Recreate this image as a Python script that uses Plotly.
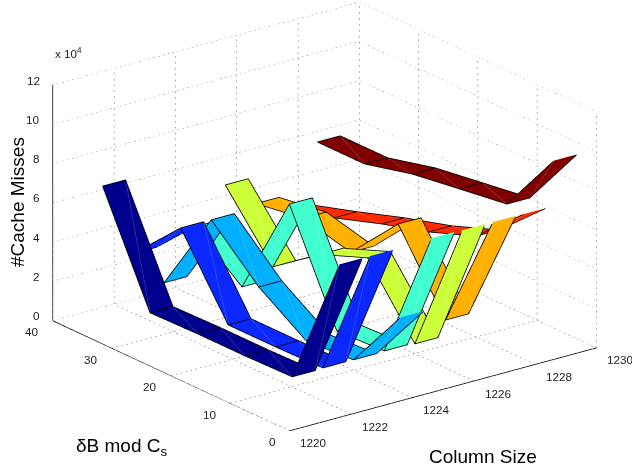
import plotly.graph_objects as go

# data (z in units of 1e4)
delta_b = [0, 8, 16, 24, 32, 40]
column_sizes = [1222, 1223, 1224, 1225, 1226, 1227, 1228, 1229]
misses_1222 = [7.79, 0.94, 0.89, 0.89, 0.84, 6.17]
misses_1223 = [7.79, 0.97, 0.92, 0.92, 4.74, 2.31]
misses_1224 = [4.25, 0.96, 0.81, 2.43, 4.73, 0.40]
misses_1225 = [7.86, 0.99, 0.89, 6.23, 0.89, 2.83]
misses_1226 = [7.84, 0.93, 4.19, 3.24, 1.49, 4.54]
misses_1227 = [7.83, 1.72, 5.49, 2.93, 3.54, 3.17]
misses_1228 = [7.81, 5.57, 4.66, 3.95, 3.14, 2.38]
misses_1229 = [10.12, 6.78, 6.43, 6.07, 5.46, 5.46]
misses = [misses_1222, misses_1223, misses_1224, misses_1225,
          misses_1226, misses_1227, misses_1228, misses_1229]
colors = ["#00008f", "#0a28ff", "#00b0ff", "#42ffcf", "#ccff3a", "#ffb000", "#ff2a00", "#800000"]
ribbon_width = 0.75
x_ticks = [1220, 1222, 1224, 1226, 1228, 1230]
y_ticks = [0, 10, 20, 30, 40]
z_ticks = [0, 2, 4, 6, 8, 10, 12]
X0, X1, Y0, Y1, Z0, Z1 = 1220, 1230, 0, 40, 0, 12

fig = go.Figure()

def seg_trace(segs, color, width, off=0.0):
    # off: small shift towards the viewer so lines win the depth test (no visible shift in orthographic view)
    xs, ys, zs = [], [], []
    for a, b in segs:
        xs += [a[0] - 3.45 * off, b[0] - 3.45 * off, None]
        ys += [a[1] - 17.8 * off, b[1] - 17.8 * off, None]
        zs += [a[2] + 3.95 * off, b[2] + 3.95 * off, None]
    fig.add_trace(go.Scatter3d(x=xs, y=ys, z=zs, mode="lines", hoverinfo="skip", showlegend=False,
                               line=dict(color=color, width=width)))

def dotted(a, b, n):
    out = []
    for k in range(n):
        t0, t1 = k / n, (k + 0.3) / n
        out.append((tuple(p + (q - p) * t0 for p, q in zip(a, b)),
                    tuple(p + (q - p) * t1 for p, q in zip(a, b))))
    return out

def lighter(hex_col, f=0.3):
    rgb = [int(hex_col[i:i + 2], 16) for i in (1, 3, 5)]
    return "rgb(%d,%d,%d)" % tuple(round(c + (255 - c) * f) for c in rgb)

# dotted grid
grid = []
for v in x_ticks:
    grid += dotted((v, Y0, Z0), (v, Y1, Z0), 52)
    grid += dotted((v, Y1, Z0), (v, Y1, Z1), 40)
for v in y_ticks:
    grid += dotted((X0, v, Z0), (X1, v, Z0), 64)
    grid += dotted((X1, v, Z0), (X1, v, Z1), 40)
for v in z_ticks:
    grid += dotted((X0, Y1, v), (X1, Y1, v), 64)
    grid += dotted((X1, Y1, v), (X1, Y0, v), 52)
seg_trace(grid, "#555555", 1)

# ribbons
for cs, vals, col in zip(column_sizes, misses, colors):
    xl, xr = cs - ribbon_width / 2, cs + ribbon_width / 2
    vx, vy, vz, ii, jj, kk = [], [], [], [], [], []
    for n, (y, z) in enumerate(zip(delta_b, vals)):
        vx += [xl, xr]; vy += [y, y]; vz += [z, z]
        if n:
            a = 2 * (n - 1)
            ii += [a, a + 1]; jj += [a + 1, a + 3]; kk += [a + 2, a + 2]
    fig.add_trace(go.Mesh3d(x=vx, y=vy, z=vz, i=ii, j=jj, k=kk, color=col, flatshading=True,
                            hoverinfo="skip", showscale=False,
                            lighting=dict(ambient=1, diffuse=0, specular=0, fresnel=0, roughness=1)))
    edges, seams = [], []
    for n, (y, z) in enumerate(zip(delta_b, vals)):
        edges.append(((xl, y, z), (xr, y, z)))
        if n:
            y0, z0 = delta_b[n - 1], vals[n - 1]
            edges.append(((xl, y0, z0), (xl, y, z)))
            edges.append(((xr, y0, z0), (xr, y, z)))
            seams.append(((xr, y, z), (xl, y0, z0)))
    seg_trace(seams, lighter(col), 1, off=0.005)
    seg_trace(edges, "black", 1.6, off=0.01)

# axes and ticks
axes = [((X0, Y0, Z0), (X1, Y0, Z0)), ((X0, Y0, Z0), (X0, Y1, Z0)), ((X0, Y1, Z0), (X0, Y1, Z1))]
for v in x_ticks:
    axes.append(((v, Y0, Z0), (v, Y0 - 1.3, Z0)))
for v in y_ticks:
    axes.append(((X0, v, Z0), (X0 - 0.33, v, Z0)))
for v in z_ticks:
    axes.append(((X0, Y1, v), (X0, Y1 + 1.2, v)))
seg_trace(axes, "black", 1.6)

FAM = "Liberation Sans, Arial, sans-serif"
tf = dict(family=FAM, size=11.7, color="#222222")
ann = []
for v in x_ticks:
    ann.append(dict(x=v, y=Y0, z=Z0, text=str(v), showarrow=False, font=tf, xshift=24, yshift=-12))
for v in y_ticks:
    ann.append(dict(x=X0, y=v, z=Z0, text=str(v), showarrow=False, font=tf, xanchor="right", xshift=-12, yshift=-11))
for v in z_ticks:
    ann.append(dict(x=X0, y=Y1, z=v, text=str(v), showarrow=False, font=tf, xanchor="right", xshift=-11, yshift=5))

hidden = dict(visible=False, showgrid=False, showline=False, zeroline=False, showticklabels=False,
              showbackground=False, showspikes=False, title="", autorange=False)
L = 3.0
cx, cy, cz = -0.0292, 0.0222, -0.0823
eye = (-0.567 * L + cx, -0.743 * L + cy, 0.354 * L + cz)
fig.update_layout(
    width=632, height=469, margin=dict(l=0, r=0, t=0, b=0), paper_bgcolor="white", showlegend=False,
    scene=dict(
        domain=dict(x=[0, 1], y=[0, 1]),
        xaxis=dict(hidden, range=[X0, X1]), yaxis=dict(hidden, range=[Y0, Y1]), zaxis=dict(hidden, range=[Z0, Z1]),
        aspectmode="manual", aspectratio=dict(x=1.645, y=1.666, z=1.075),
        camera=dict(eye=dict(x=eye[0], y=eye[1], z=eye[2]), center=dict(x=cx, y=cy, z=cz),
                    up=dict(x=0, y=0, z=1), projection=dict(type="orthographic")),
        annotations=ann,
    ),
)

def label(px, py, text, size, color="black", **kw):
    return dict(x=px / 632, y=1 - py / 469, xref="paper", yref="paper", text=text, showarrow=False,
                yanchor="middle", font=dict(family=FAM, size=size, color=color), **kw)

fig.layout.annotations = [
    label(53, 53, "x 10<sup>4</sup>", 11.7, "#222222", xanchor="left"),
    label(17, 202, "#Cache Misses", 19, textangle=-90, xanchor="center"),
    label(122, 447, "δB mod C<sub>s</sub>", 19, xanchor="center"),
    label(483, 456, "Column Size", 19, xanchor="center"),
]
fig.write_html("out.html", config={"displayModeBar": False},
               post_script="document.body.style.margin='0';document.documentElement.style.overflow='hidden';")
